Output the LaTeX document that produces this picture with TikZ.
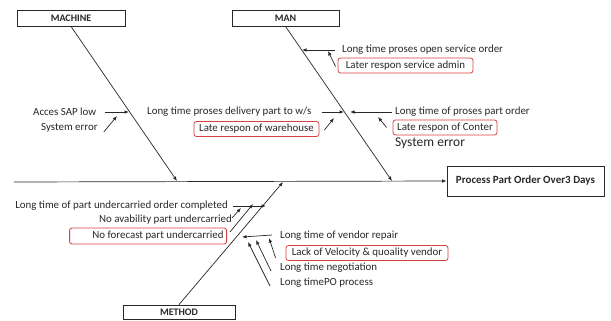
\documentclass[tikz,border=0pt]{standalone}
\usepackage{fontspec}
\setmainfont{Carlito}
\usetikzlibrary{arrows.meta}
\definecolor{boxred}{RGB}{214,64,64}
\definecolor{ink}{RGB}{40,40,40}
\begin{document}
\begin{tikzpicture}[x=1pt,y=-1pt,
  cat/.style={draw=ink, line width=0.8pt, minimum height=16pt, inner sep=0pt, text=ink,
              font=\bfseries\fontsize{10}{11}\selectfont},
  lbl/.style={inner sep=0pt, text=ink, font=\fontsize{10.9}{12}\selectfont},
  rbox/.style={draw=boxred, line width=0.8pt, rounded corners=2.5pt, inner xsep=3pt,
               inner ysep=0pt, minimum height=15pt, text=ink, font=\fontsize{10.9}{12}\selectfont},
  bone/.style={draw=ink, line width=0.7pt},
  arr/.style={draw=ink, line width=0.7pt, -{Latex[length=4.5pt,width=3.5pt]}}
]
\useasboundingbox (0,0) rectangle (611,321);
\fill[white] (0,0) rectangle (611,321);

% category boxes and effect
\node[cat, minimum width=108pt] (machine) at (71,18) {MACHINE};
\node[cat, minimum width=107pt] (man) at (285.5,18) {MAN};
\node[cat, minimum width=112pt, minimum height=14pt] (method) at (179,312) {METHOD};
\node[cat, minimum width=157pt, minimum height=30pt, font=\bfseries\fontsize{11}{12}\selectfont] (effect) at (525.5,181) {Process Part Order Over3 Days};

% spine and main bones
\coordinate (tail) at (14,182);
\coordinate (machend) at (177,181);
\coordinate (manend) at (392,181);
\coordinate (methend) at (283,182);
\draw[arr] (tail) -- (effect.west);
\draw[arr] (machine.south) -- (machend);
\draw[arr] (man.south) -- (manend);
\draw[arr] (method.north) -- (methend);

% MACHINE causes
\node[lbl, anchor=west] (sap) at (33,112) {Acces SAP low};
\coordinate (sapend) at (129,112);
\draw[arr] ([xshift=9pt]sap.east) -- (sapend);
\node[lbl, anchor=west] (sys1) at (41,128) {System error};
\coordinate (sys1end) at (117,116);
\draw[arr] ([xshift=6pt,yshift=-4pt]sys1.east) -- (sys1end);

% MAN causes
\node[lbl, anchor=west] (open) at (342,50) {Long time proses open service order};
\coordinate (openend) at (302,50);
\draw[arr] ([xshift=-7pt]open.west) -- (openend);
\node[rbox, minimum width=135pt] (admin) at (405.5,65.5) {Later respon service admin};
\coordinate (adminend) at (328,51);
\draw[arr] ([xshift=-2pt,yshift=-1pt]admin.west) -- (adminend);

\node[lbl, anchor=west] (deliv) at (147,112) {Long time proses delivery part to w/s};
\coordinate (delivend) at (344,112);
\draw[arr] ([xshift=10pt]deliv.east) -- (delivend);
\node[rbox, minimum width=125pt] (wh) at (256.5,129) {Late respon of warehouse};
\coordinate (whend) at (334,118);
\draw[arr] ([xshift=5pt,yshift=-1pt]wh.east) -- (whend);

\node[lbl, anchor=west] (porder) at (395,112) {Long time of proses part order};
\coordinate (porderend) at (350,112);
\draw[arr] ([xshift=-3pt]porder.west) -- (porderend);
\node[rbox, minimum width=104pt] (conter) at (445,127.5) {Late respon of Conter};
\coordinate (conterend) at (378,117);
\draw[arr] ([xshift=-6pt]conter.west) -- (conterend);
\node[lbl, anchor=west, font=\fontsize{13.5}{15}\selectfont] (sys2) at (395,143) {System error};

% METHOD causes
\node[lbl, anchor=east] (compl) at (228,206) {Long time of part undercarried order completed};
\coordinate (complend) at (266,206);
\draw[arr] ([xshift=5pt]compl.east) -- (complend);
\node[lbl, anchor=east] (avail) at (232,220) {No avability part undercarried};
\coordinate (availend) at (241,208);
\draw[arr] ([yshift=2pt]avail.east) -- (availend);
\node[rbox, anchor=east, text width=151pt, align=flush right, minimum height=16pt] (fcast) at (227,236) {No forecast part undercarried};
\coordinate (fcastend) at (253,204);
\draw[arr] ([xshift=3pt,yshift=4pt]fcast.east) -- (fcastend);

\node[lbl, anchor=west] (vendor) at (280,236) {Long time of vendor repair};
\coordinate (vendorend) at (242,237);
\draw[arr] ([xshift=-8pt,yshift=1pt]vendor.west) -- (vendorend);
\node[rbox, minimum width=162pt] (lack) at (367,253) {Lack of Velocity \& quoality vendor};
\coordinate (lackend) at (269,238);
\draw[arr] ([xshift=-10pt,yshift=-5pt]lack.west) -- (lackend);
\node[lbl, anchor=west] (nego) at (280,268) {Long time negotiation};
\coordinate (negoend) at (256,240);
\draw[arr] ([xshift=-9pt,yshift=-3pt]nego.west) -- (negoend);
\node[lbl, anchor=west] (po) at (280,283) {Long timePO process};
\coordinate (poend) at (248,242);
\draw[arr] ([xshift=-10pt,yshift=-3pt]po.west) -- (poend);
\end{tikzpicture}
\end{document}
